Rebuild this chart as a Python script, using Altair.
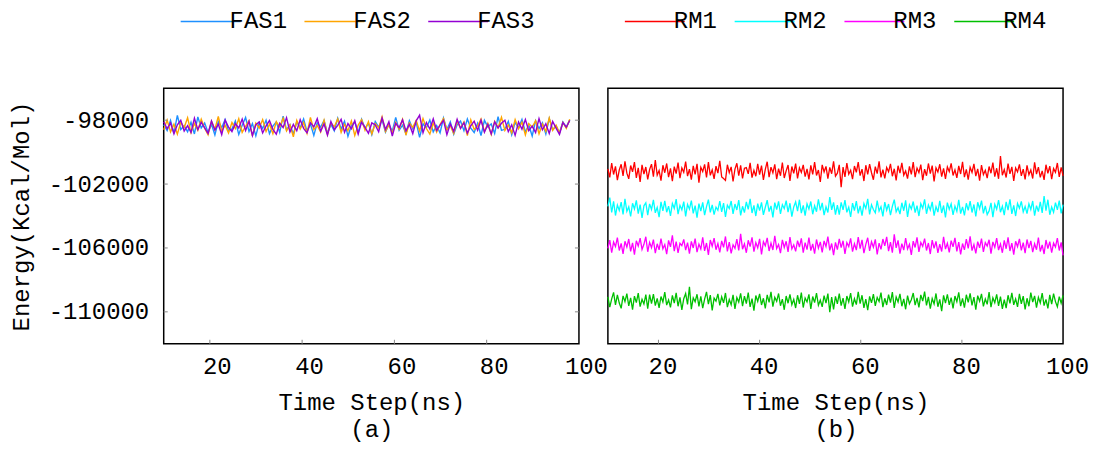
import altair as alt
import numpy as np
import pandas as pd

FONT = "Liberation Mono"
FS = 24

# ---- data (energy = mean level + deviation*10, Kcal/Mol) ----
FAS_NAMES = ["FAS1", "FAS2", "FAS3"]
FAS_COLORS = ["#1e90ff", "#ffa500", "#9400d3"]
FAS_MEANS = [-98400, -98400, -98400]
FAS_T = (10, 98)

RM_NAMES = ["RM1", "RM2", "RM3", "RM4"]
RM_COLORS = ["#ff0000", "#00ffff", "#ff00ff", "#00c000"]
RM_MEANS = [-101200, -103500, -105850, -109300]
RM_T = (10, 100)

FAS1_DEV = [12,-25,38,-41,70,-18,5,-33,27,-46,61,-9,22,-37,14,-52,33,-6,44,-28,
            -15,36,-49,8,57,-31,19,-58,25,-12,40,-44,3,29,-36,66,-21,11,-47,31,
            -8,48,-30,17,-55,24,-3,39,-42,13,-27,52,-16,34,-61,7,28,-38,45,-11,
            20,-50,32,-4,43,-35,15,-29,58,-23,9,-45,37,-14,26,-68,18,-7,41,-33,
            6,-40,53,-19,30,-48,12,35,-26,47,-10,-37,21,-56,39,-2,16,-43,62,-24,
            -17,33,-51,27,-8,45,-34,10,-59,36,-13,24,-46,50,-20,4,-39,29,-5,42]
FAS2_DEV = [-20,41,-33,15,-47,28,-6,55,-38,19,-24,46,-11,-52,34,-17,63,-29,8,-40,
            25,-13,49,-36,2,37,-58,21,-9,44,-31,16,-45,30,-3,52,-27,11,-64,38,
            -15,26,-42,57,-19,7,-34,40,-50,23,-1,48,-37,14,-26,35,-55,9,43,-22,
            31,-46,18,-8,60,-30,12,-41,27,-16,45,-53,22,-5,39,-28,50,-12,-47,24,
            -35,13,51,-21,6,-43,36,-10,29,-57,42,-18,3,47,-32,20,-49,33,-7,58,
            -25,10,-39,44,-14,28,-52,19,-4,37,-45,15,-30,54,-23,8,-41,26,-11,46]
FAS3_DEV = [30,-14,22,-45,11,40,-28,6,-37,52,-19,27,-8,-43,35,-22,15,-50,41,-3,
            -31,18,-9,47,-25,33,-56,12,29,-40,4,38,-17,-48,21,-6,56,-34,14,-26,
            43,-11,-39,25,-2,49,-29,16,-53,32,-20,7,45,-36,19,-14,37,-47,28,-5,
            -42,23,10,-33,54,-18,31,-60,20,-7,42,-27,13,-44,36,71,-38,26,-15,48,
            -24,9,39,-51,17,-30,46,-12,24,-41,5,34,-23,40,-35,14,-46,30,-9,21,
            40,-32,11,-55,28,-16,44,-26,3,-37,50,-20,18,-43,32,-10,-49,25,-4,38]

# RM series: first half (A) and second half (B) of each run
RM1_A = [15,-38,52,-20,31,-55,8,44,-29,63,-12,-47,36,-3,58,-41,22,-66,40,-17,
         27,-50,11,45,-33,70,-24,5,-58,38,-9,49,-36,18,-62,29,-14,55,-43,21,
         -6,61,-30,13,-52,34,-19,47,-71,25,-2,43,-38,57,-25,9,-48,32,-11,66,
         -35,-45,-57,41,-8,28,-64,14,50,-27,37,-45,19,23,-16,53,-40,6,-31,46,
         -21,35,-54,12,60,-37,26,-10,44,-49,17,-28,55,-42,3,39,-60,30,-13,48,
         -44,22,-7,40,-33,15,-51,37,-19,58,-26,8,-67,40,-4,31,-46,24,-15,62,-30]
RM1_B = [-12,40,-100,26,-35,51,-18,7,-49,33,-6,58,-27,14,-61,38,-20,45,-9,-53,
         29,-15,62,-38,10,-44,24,-3,47,-31,16,-57,35,-11,53,-24,2,-46,31,-19,
         57,-36,20,-8,42,-55,13,-28,49,-14,36,-63,22,-5,44,-33,18,-48,27,-2,
         50,-26,9,-41,34,-17,59,-37,12,-52,25,-7,46,-30,15,-58,39,-21,6,-43,
         30,-12,54,-34,19,-47,95,-25,11,-39,48,-16,28,-60,21,-4,43,-29,14,-51,
         37,-22,8,-45,56,-18,26,-38,3,-54,41,-13,32,-49,17,-6,52,-35,24,-28]
RM2_A = [10,65,-28,42,-47,19,-15,37,-40,58,-21,8,-53,30,-6,48,-35,22,-62,14,
         33,-44,26,-9,51,-30,4,-57,39,-18,45,-26,12,-49,29,-2,56,-38,17,-11,
         40,-52,23,-7,47,-33,15,-60,28,-19,36,-45,9,53,-27,20,-41,6,-14,43,
         -24,31,-55,18,-3,44,-37,25,-12,50,-46,11,-29,38,-8,57,-31,16,-50,27,
         -16,35,-43,5,49,-22,13,-58,34,-10,42,-36,21,-4,46,-25,30,-54,7,39,
         -20,52,-32,17,-47,26,-6,41,-39,14,-23,55,-15,32,-44,8,-28,69,-12,36,-41]
RM2_B = [18,-42,35,-11,50,-27,6,-55,31,-16,44,-34,13,-48,28,-3,57,-40,21,-9,
         -30,46,-19,8,-52,37,-14,25,-45,11,53,-24,2,-38,33,-17,48,-56,20,-6,
         41,-29,15,-50,27,-2,54,-36,19,-12,39,-47,9,-25,45,-31,16,-59,34,-8,
         26,-43,12,-21,51,-35,7,-46,30,-15,43,-28,22,-53,36,-4,47,-33,14,-41,
         -18,32,-57,24,-7,49,-26,11,-44,38,-13,55,-37,17,-50,29,-1,42,-24,10,
         -35,27,-9,44,-48,15,-22,39,-30,75,-16,52,-42,6,-27,34,-11,46,-33,21]
RM3_A = [-18,34,-45,22,-6,50,-31,13,-52,27,-10,41,-36,17,-57,30,-3,46,-24,8,
         55,-39,20,-13,37,-48,11,-27,44,-20,6,-54,32,-8,64,-35,25,-46,14,-1,
         39,-29,18,-50,26,-15,43,-41,9,-22,51,-33,16,-58,35,-4,47,-26,12,-43,
         29,-11,57,-37,21,-49,5,-17,40,-30,73,-23,11,-45,33,-7,52,-38,19,-14,
         42,-55,24,-2,48,-34,15,-28,61,-19,7,-47,36,-12,27,-40,53,-21,4,-36,
         31,-9,45,-44,18,-25,50,-32,10,-51,38,-16,23,-42,29,-6,56,-30,13,-60,20]
RM3_B = [-25,42,-13,30,-52,18,-6,45,-38,11,-28,53,-19,36,-47,7,49,-33,24,-10,
         39,-56,15,-24,41,-2,55,-35,22,-44,70,-15,33,-50,12,-29,46,-21,8,-58,
         28,-12,51,-40,19,-5,43,-31,16,-53,34,-18,26,-46,9,-37,54,-22,14,-43,
         31,-8,48,-36,21,-55,13,-27,40,-17,57,-32,6,-49,25,-14,44,-39,18,-3,
         36,-51,23,-11,47,-28,10,-45,32,-20,52,-34,15,-57,27,-7,42,-30,19,-48,
         38,-16,29,-41,11,-26,50,-37,4,-53,35,-19,24,-44,16,-9,46,-31,20,-62]
RM4_A = [23,-40,11,52,-27,36,-15,-48,30,-6,44,-33,17,-56,28,-12,47,-37,9,-21,
         38,-50,38,-19,41,-31,14,-45,26,-8,53,-28,5,-42,33,-16,49,-35,20,-58,
         12,45,-24,86,-53,18,-7,40,-36,27,-47,10,55,-22,35,-61,16,-3,43,-30,
         24,-14,48,-41,7,-26,37,-52,19,-9,46,-34,28,-18,51,-39,13,-63,32,-5,
         42,-27,15,-49,36,-11,55,-38,21,-4,45,-32,10,-57,29,-16,40,-25,8,-46,
         34,-20,50,-43,17,-8,39,-51,26,-12,47,-29,3,-39,31,-15,44,-72,22,-55,27]
RM4_B = [-20,44,-31,16,-52,29,-8,47,-37,12,-25,55,-18,34,-45,9,-60,27,-14,41,
         -33,20,-5,50,-40,15,-27,38,-12,53,-46,23,-9,43,-35,11,-54,31,-19,6,
         48,-28,17,-42,36,-3,57,-30,24,-50,13,-21,45,-38,8,-66,33,-16,40,-26,
         19,-48,29,-7,52,-34,14,-44,37,-11,46,-29,22,-57,31,-4,42,-36,10,-23,
         54,-41,18,-13,39,-32,25,-51,6,-47,34,-17,49,-26,11,-39,43,-20,28,-55,
         15,-35,51,-9,30,-43,21,-14,47,-31,8,-49,36,-22,44,-6,-38,25,-16,33]

Y_TICKS = [-98000, -102000, -106000, -110000]
X_TICKS = [20, 40, 60, 80, 100]
Y_DOMAIN = [-112000, -96000]
X_DOMAIN = [10, 100]

H = 256
W_LEFT = 416
W_RIGHT = 456


def frame(names, means, devs, span):
    rows = []
    for name, m, d in zip(names, means, devs):
        t = np.linspace(span[0], span[1], len(d))
        for ti, di in zip(t, d):
            rows.append({"t": float(ti), "E": m + 10 * di, "series": name})
    return pd.DataFrame(rows)


fas_df = frame(FAS_NAMES, FAS_MEANS, [FAS1_DEV, FAS2_DEV, FAS3_DEV], FAS_T)
rm_df = frame(RM_NAMES, RM_MEANS,
              [RM1_A + RM1_B, RM2_A + RM2_B, RM3_A + RM3_B, RM4_A + RM4_B], RM_T)

legend_cfg = dict(
    orient="top", offset=55, direction="horizontal",
    title=None, symbolType="M-1,0L5,0", symbolSize=400, symbolStrokeWidth=1.5,
    symbolOffset=15, labelOffset=27, labelFont=FONT, labelFontSize=FS,
    labelColor="black", columnPadding=0, padding=0,
)


def xaxis(label, loff):
    return alt.Axis(values=X_TICKS, tickSize=0, domain=False, grid=False,
                    labelFont=FONT, labelFontSize=FS, labelColor="black",
                    labelFlush=False, labelOverlap=False, labelBound=False,
                    labelOffset=loff, labelPadding=11,
                    title=["Time Step(ns)", label], titleFont=FONT,
                    titleFontSize=FS, titleFontWeight="normal", titleColor="black",
                    titleLineHeight=27, titlePadding=12)


def panel(df, names, colors, width, label, show_y, loff, sw):
    base = alt.Chart(df)
    layers = []
    for n in names:
        layers.append(
            base.transform_filter(alt.datum.series == n).mark_line(strokeWidth=sw).encode(
                x=alt.X("t:Q", scale=alt.Scale(domain=X_DOMAIN, nice=False, zero=False),
                        axis=xaxis(label, loff)),
                y=alt.Y("E:Q", scale=alt.Scale(domain=Y_DOMAIN, nice=False, zero=False),
                        axis=(alt.Axis(values=Y_TICKS, tickSize=0, domain=False, grid=False,
                                       labelFont=FONT, labelFontSize=FS, labelColor="black",
                                       labelPadding=15, labelExpr="'' + datum.value",
                                       title="Energy(Kcal/Mol)", titleFont=FONT,
                                       titleFontSize=FS, titleFontWeight="normal",
                                       titleColor="black", titlePadding=15)
                              if show_y else None)),
                color=alt.Color("series:N",
                                scale=alt.Scale(domain=names, range=colors),
                                legend=alt.Legend(**legend_cfg)),
            )
        )
    xt = alt.Chart(pd.DataFrame({"v": X_TICKS[:-1]})).mark_rule(color="#888", strokeWidth=1).encode(
        x=alt.X("v:Q", scale=alt.Scale(domain=X_DOMAIN, nice=False, zero=False)),
        y=alt.value(H - 4), y2=alt.value(H))
    parts = layers + [xt]
    if show_y:
        yt = pd.DataFrame({"v": Y_TICKS})
        parts.append(alt.Chart(yt).mark_rule(color="#888", strokeWidth=1).encode(
            y=alt.Y("v:Q", scale=alt.Scale(domain=Y_DOMAIN, nice=False, zero=False)),
            x=alt.value(0), x2=alt.value(4)))
        parts.append(alt.Chart(yt).mark_rule(color="#888", strokeWidth=1).encode(
            y=alt.Y("v:Q", scale=alt.Scale(domain=Y_DOMAIN, nice=False, zero=False)),
            x=alt.value(width - 4), x2=alt.value(width)))
    return alt.layer(*parts).properties(width=width, height=H)


left = panel(fas_df, FAS_NAMES, FAS_COLORS, W_LEFT, "(a)", True, 7, 1.4)
right = panel(rm_df, RM_NAMES, RM_COLORS, W_RIGHT, "(b)", False, 4, 1.3)

chart = alt.hconcat(left, right, spacing=29, bounds="flush").resolve_scale(
    color="independent", y="independent", x="independent"
).properties(padding={"left": 0, "top": 0, "right": 0, "bottom": 0}).configure_view(
    stroke="black", strokeWidth=1.5)

chart.save("out.html", embed_options={"renderer": "svg", "actions": False})
